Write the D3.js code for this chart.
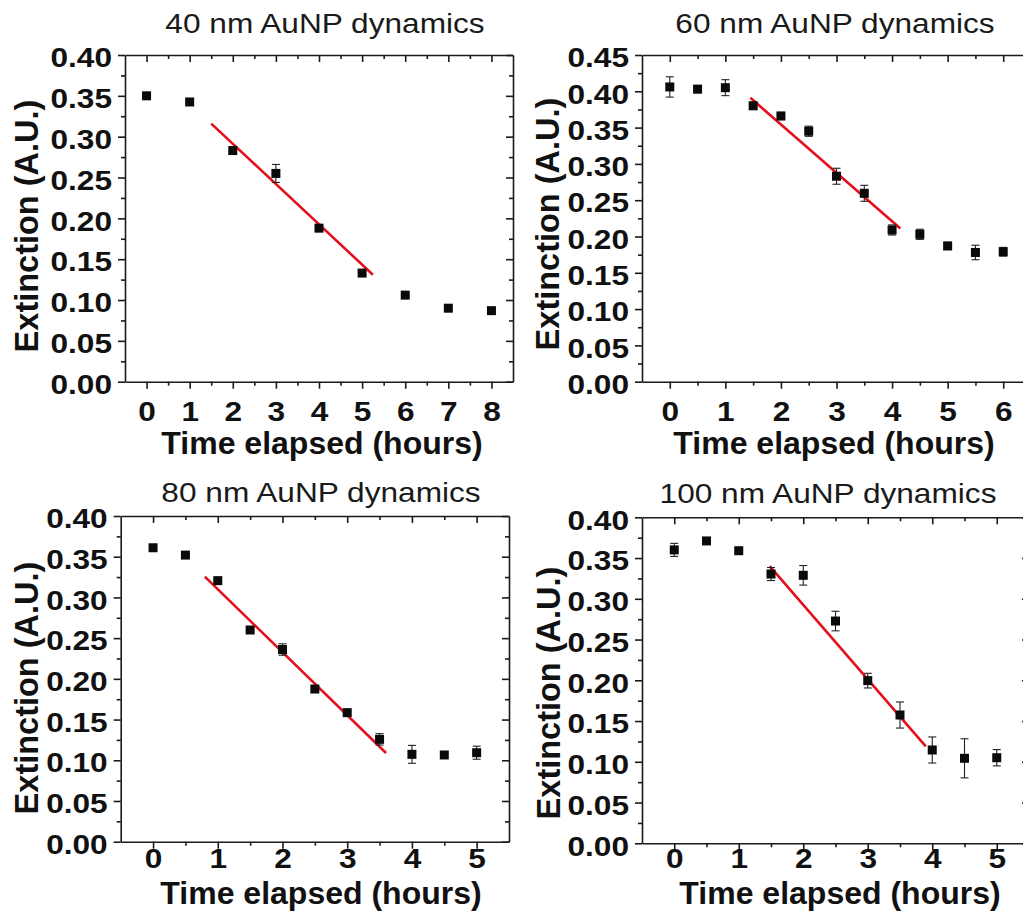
<!DOCTYPE html>
<html><head><meta charset="utf-8">
<script src="https://cdn.jsdelivr.net/npm/d3@7"></script>
<style>body{margin:0;background:#fff}svg{display:block}</style>
</head><body>
<svg id="c" width="1023" height="922"></svg>
<script>
// ---------- data ----------
const titles = ["40 nm AuNP dynamics", "60 nm AuNP dynamics", "80 nm AuNP dynamics", "100 nm AuNP dynamics"];
const xLabel = "Time elapsed (hours)";
const yLabel = "Extinction (A.U.)";

const time40 = [0, 1, 2, 3, 4, 5, 6, 7, 8];
const ext40  = [0.350, 0.3425, 0.283, 0.255, 0.188, 0.133, 0.106, 0.090, 0.087];
const err40  = [0.003, 0.002, 0.003, 0.011, 0.003, 0.002, 0.002, 0.003, 0.002];
const fitX40 = [1.5, 5.25];
const fitY40 = [0.316, 0.131];

const time60 = [0, 0.5, 1, 1.5, 2, 2.5, 3, 3.5, 4, 4.5, 5, 5.5, 6];
const ext60  = [0.406, 0.403, 0.405, 0.380, 0.366, 0.345, 0.283, 0.2595, 0.209, 0.203, 0.187, 0.178, 0.179];
const err60  = [0.014, 0.005, 0.011, 0.005, 0.005, 0.007, 0.011, 0.011, 0.007, 0.007, 0.005, 0.010, 0.006];
const fitX60 = [1.45, 4.15];
const fitY60 = [0.391, 0.211];

const time80 = [0, 0.5, 1, 1.5, 2, 2.5, 3, 3.5, 4, 4.5, 5];
const ext80  = [0.361, 0.352, 0.3206, 0.260, 0.236, 0.1875, 0.1585, 0.1257, 0.1073, 0.1065, 0.1093];
const err80  = [0.002, 0.002, 0.002, 0.004, 0.007, 0.002, 0.002, 0.007, 0.011, 0.002, 0.008];
const fitX80 = [0.8, 3.6];
const fitY80 = [0.3255, 0.109];

const time100 = [0, 0.5, 1, 1.5, 2, 2.5, 3, 3.5, 4, 4.5, 5];
const ext100  = [0.360, 0.371, 0.359, 0.3304, 0.3288, 0.2727, 0.1996, 0.1574, 0.1145, 0.1043, 0.105];
const err100  = [0.008, 0.003, 0.003, 0.008, 0.012, 0.012, 0.009, 0.016, 0.016, 0.024, 0.010];
const fitX100 = [1.48, 3.9];
const fitY100 = [0.340, 0.119];

const yTicks40 = [0, 0.05, 0.10, 0.15, 0.20, 0.25, 0.30, 0.35, 0.40];
const yTicks45 = [0, 0.05, 0.10, 0.15, 0.20, 0.25, 0.30, 0.35, 0.40, 0.45];
const xTicks8 = [0, 1, 2, 3, 4, 5, 6, 7, 8];
const xTicks6 = [0, 1, 2, 3, 4, 5, 6];
const xTicks5 = [0, 1, 2, 3, 4, 5];

// ---------- layout ----------
const layout = [
  {L:125, R:513, T:55, B:381.7, xMax:8.5, yMax:0.40, titleX:325, titleY:33.3, tickLY:39, xlabX:322, xlabY:454, ylabX:38, ylabY:226},
  {L:642, R:1031, T:55, B:381.7, xMax:6.5, yMax:0.45, titleX:835, titleY:33.3, tickLY:39, xlabX:834, xlabY:454, ylabX:559, ylabY:224},
  {L:120.7, R:509, T:516, B:841.7, xMax:5.5, yMax:0.40, titleX:321, titleY:502, tickLY:26, xlabX:321, xlabY:904, ylabX:38, ylabY:688},
  {L:642, R:1029, T:517.3, B:843.3, xMax:5.5, yMax:0.40, titleX:828, titleY:503, tickLY:25, xlabX:840, xlabY:904, ylabX:560, ylabY:693}
];
const panels = [
  {t:time40, v:ext40, e:err40, fx:fitX40, fy:fitY40, yt:yTicks40, xt:xTicks8},
  {t:time60, v:ext60, e:err60, fx:fitX60, fy:fitY60, yt:yTicks45, xt:xTicks6},
  {t:time80, v:ext80, e:err80, fx:fitX80, fy:fitY80, yt:yTicks40, xt:xTicks5},
  {t:time100, v:ext100, e:err100, fx:fitX100, fy:fitY100, yt:yTicks40, xt:xTicks5}
];

const SX = 1.13;           // horizontal stretch of the original figure text
const FONT = "'Liberation Sans', Arial, Helvetica, sans-serif";
const svg = d3.select("#c");

function mids(a){ return d3.pairs(a).map(p => (p[0]+p[1])/2); }

panels.forEach((p, i) => {
  const lo = layout[i];
  const g = svg.append("g");
  const x = d3.scaleLinear().domain([-0.5, lo.xMax]).range([lo.L, lo.R]);
  const y = d3.scaleLinear().domain([0, lo.yMax]).range([lo.B, lo.T]);
  const xMin = mids(p.xt);
  const yMin = mids(p.yt);

  function styleAxis(sel){
    sel.selectAll("path.domain").attr("stroke", "#1a1a1a").attr("stroke-width", 1.6);
    sel.selectAll(".tick line").attr("stroke", "#1a1a1a").attr("stroke-width", 1.6);
  }

  // bottom
  const gb = g.append("g").attr("transform", `translate(0,${lo.B})`)
    .call(d3.axisBottom(x).tickValues(p.xt).tickSizeInner(7).tickSizeOuter(0).tickFormat(d3.format("d")));
  styleAxis(gb);
  gb.selectAll(".tick text").attr("y", lo.tickLY).attr("dy", null)
    .attr("transform", `scale(${SX},1)`)
    .style("font-family", FONT).style("font-size", "28px").style("font-weight", "bold").attr("fill", "#111");
  const gbm = g.append("g").attr("transform", `translate(0,${lo.B})`)
    .call(d3.axisBottom(x).tickValues(xMin).tickSizeInner(4).tickSizeOuter(0).tickFormat(""));
  gbm.select(".domain").remove(); styleAxis(gbm);

  // left
  const gl = g.append("g").attr("transform", `translate(${lo.L},0)`)
    .call(d3.axisLeft(y).tickValues(p.yt).tickSizeInner(7).tickSizeOuter(0).tickFormat(d3.format(".2f")));
  styleAxis(gl);
  gl.selectAll(".tick text").attr("x", -13 / SX).attr("y", 11.7).attr("dy", null)
    .attr("transform", `scale(${SX},1)`)
    .style("font-family", FONT).style("font-size", "28px").style("font-weight", "bold").attr("fill", "#111");
  const glm = g.append("g").attr("transform", `translate(${lo.L},0)`)
    .call(d3.axisLeft(y).tickValues(yMin).tickSizeInner(4).tickSizeOuter(0).tickFormat(""));
  glm.select(".domain").remove(); styleAxis(glm);

  // top (inward ticks)
  const gt = g.append("g").attr("transform", `translate(0,${lo.T})`)
    .call(d3.axisTop(x).tickValues(p.xt).tickSizeInner(-7).tickSizeOuter(0).tickFormat(""));
  styleAxis(gt);
  const gtm = g.append("g").attr("transform", `translate(0,${lo.T})`)
    .call(d3.axisTop(x).tickValues(xMin).tickSizeInner(-4).tickSizeOuter(0).tickFormat(""));
  gtm.select(".domain").remove(); styleAxis(gtm);

  // right (inward ticks)
  const gr = g.append("g").attr("transform", `translate(${lo.R},0)`)
    .call(d3.axisRight(y).tickValues(p.yt).tickSizeInner(-7).tickSizeOuter(0).tickFormat(""));
  styleAxis(gr);
  const grm = g.append("g").attr("transform", `translate(${lo.R},0)`)
    .call(d3.axisRight(y).tickValues(yMin).tickSizeInner(-4).tickSizeOuter(0).tickFormat(""));
  grm.select(".domain").remove(); styleAxis(grm);

  // fit line
  const fit = p.fx.map((d, k) => [d, p.fy[k]]);
  g.append("path").datum(fit)
    .attr("d", d3.line().x(d => x(d[0])).y(d => y(d[1])))
    .attr("fill", "none").attr("stroke", "#e3101c").attr("stroke-width", 2.6);

  // error bars
  const pts = p.t.map((d, k) => ({t:d, v:p.v[k], e:p.e[k]}));
  const eb = g.append("g").attr("stroke", "#222").attr("stroke-width", 1.1);
  pts.forEach(d => {
    const cx = x(d.t), y1 = y(d.v + d.e), y2 = y(d.v - d.e);
    eb.append("line").attr("x1", cx).attr("x2", cx).attr("y1", y1).attr("y2", y2);
    eb.append("line").attr("x1", cx - 4).attr("x2", cx + 4).attr("y1", y1).attr("y2", y1);
    eb.append("line").attr("x1", cx - 4).attr("x2", cx + 4).attr("y1", y2).attr("y2", y2);
  });

  // markers
  const S = 9;
  g.append("g").selectAll("rect").data(pts).join("rect")
    .attr("x", d => x(d.t) - S/2).attr("y", d => y(d.v) - S/2)
    .attr("width", S).attr("height", S).attr("fill", "#0a0a0a");

  // title
  svg.append("text")
    .attr("transform", `translate(${lo.titleX},${lo.titleY}) scale(${SX},1)`)
    .attr("text-anchor", "middle")
    .style("font-family", FONT).style("font-size", "28px").attr("fill", "#1a1a1a")
    .text(titles[i]);

  // x label
  svg.append("text")
    .attr("x", lo.xlabX).attr("y", lo.xlabY).attr("text-anchor", "middle")
    .style("font-family", FONT).style("font-size", "32px").style("font-weight", "bold").attr("fill", "#111")
    .text(xLabel);

  // y label
  svg.append("text")
    .attr("transform", `translate(${lo.ylabX},${lo.ylabY}) rotate(-90)`)
    .attr("text-anchor", "middle")
    .style("font-family", FONT).style("font-size", "32.5px").style("font-weight", "bold").attr("fill", "#111")
    .text(yLabel);
});
</script>
</body></html>
